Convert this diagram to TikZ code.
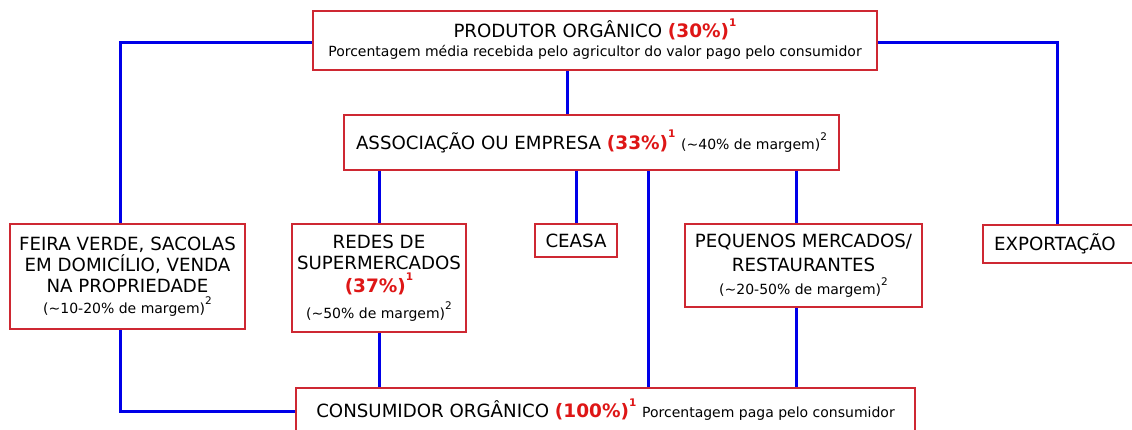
\documentclass[tikz,border=0pt]{standalone}
\usepackage{fontspec}
\setmainfont{DejaVu Sans}
\usetikzlibrary{positioning}
\definecolor{boxred}{RGB}{206,40,50}
\definecolor{pctred}{RGB}{222,22,22}
\definecolor{lineblue}{RGB}{0,0,232}
\newcommand{\mainfont}{\fontsize{18.2}{21}\selectfont}
\newcommand{\smallfont}{\fontsize{14}{17}\selectfont}
\newcommand{\notemark}[2]{\smash{\raisebox{#1}{\fontsize{10.5}{10.5}\selectfont #2}}}
\newcommand{\redpct}[1]{{\color{pctred}\bfseries\fontsize{18.5}{21}\selectfont(#1\%)\notemark{11.5pt}{1}}}
\newcommand{\margem}[1]{{\smallfont(\textasciitilde#1\% de margem)\notemark{9pt}{2}}}
\begin{document}
\begin{tikzpicture}[x=1pt,y=-1pt,
    box/.style={draw=boxred, line width=2pt, fill=white, inner sep=0pt, align=center, font=\mainfont},
    link/.style={lineblue, line width=3pt}]
    \useasboundingbox (0,0) rectangle (1132,430);

    \node[box, minimum width=564, minimum height=59] (prod) at (595,40.5)
        {PRODUTOR ORGÂNICO \redpct{30}\\[-2pt]
         {\smallfont Porcentagem média recebida pelo agricultor do valor pago pelo consumidor}};
    \node[box, minimum width=495, minimum height=55] (assoc) at (591.5,142.5)
        {ASSOCIAÇÃO OU EMPRESA \redpct{33} \margem{40}};
    \node[box, minimum width=235, minimum height=105] (feira) at (127.5,276.5)
        {FEIRA VERDE, SACOLAS\\EM DOMICÍLIO, VENDA\\NA PROPRIEDADE\\\margem{10-20}};
    \node[box, minimum width=174, minimum height=108] (redes) at (379,278)
        {REDES DE\\SUPERMERCADOS\\[2pt]\redpct{37}\\[5pt]\margem{50}};
    \node[box, minimum width=82, minimum height=33] (ceasa) at (576,240.5) {CEASA};
    \node[box, minimum width=160, minimum height=38] (exp) at (1063,244) {\hspace*{-16pt}EXPORTAÇÃO};
    \node[box, minimum width=237, minimum height=83] (peq) at (803.5,265.5)
        {PEQUENOS MERCADOS/\\[2.5pt]RESTAURANTES\\[2pt]\margem{20-50}};
    \node[box, minimum width=619, minimum height=46] (cons) at (605.5,411)
        {CONSUMIDOR ORGÂNICO \redpct{100} {\smallfont Porcentagem paga pelo consumidor}};

    \draw[link] ([yshift=-2.5]prod.west) -| ([xshift=-7.5]feira.north);
    \draw[link] ([yshift=-2.5]prod.east) -| ([xshift=-6]exp.north);
    \draw[link] ([xshift=-28]prod.south) -- ([xshift=-28]prod.south |- assoc.north);
    \draw[link] (redes.north |- assoc.south) -- (redes.north);
    \draw[link] (ceasa.north |- assoc.south) -- (ceasa.north);
    \draw[link] ([xshift=56.5]assoc.south) -- ([xshift=56.5]assoc.south |- cons.north);
    \draw[link] ([xshift=-7.5]peq.north |- assoc.south) -- ([xshift=-7.5]peq.north);
    \draw[link] ([xshift=-7.5]feira.south) |- (cons.west);
    \draw[link] (redes.south) -- (redes.south |- cons.north);
    \draw[link] ([xshift=-7.5]peq.south) -- ([xshift=-7.5]peq.south |- cons.north);
\end{tikzpicture}
\end{document}
